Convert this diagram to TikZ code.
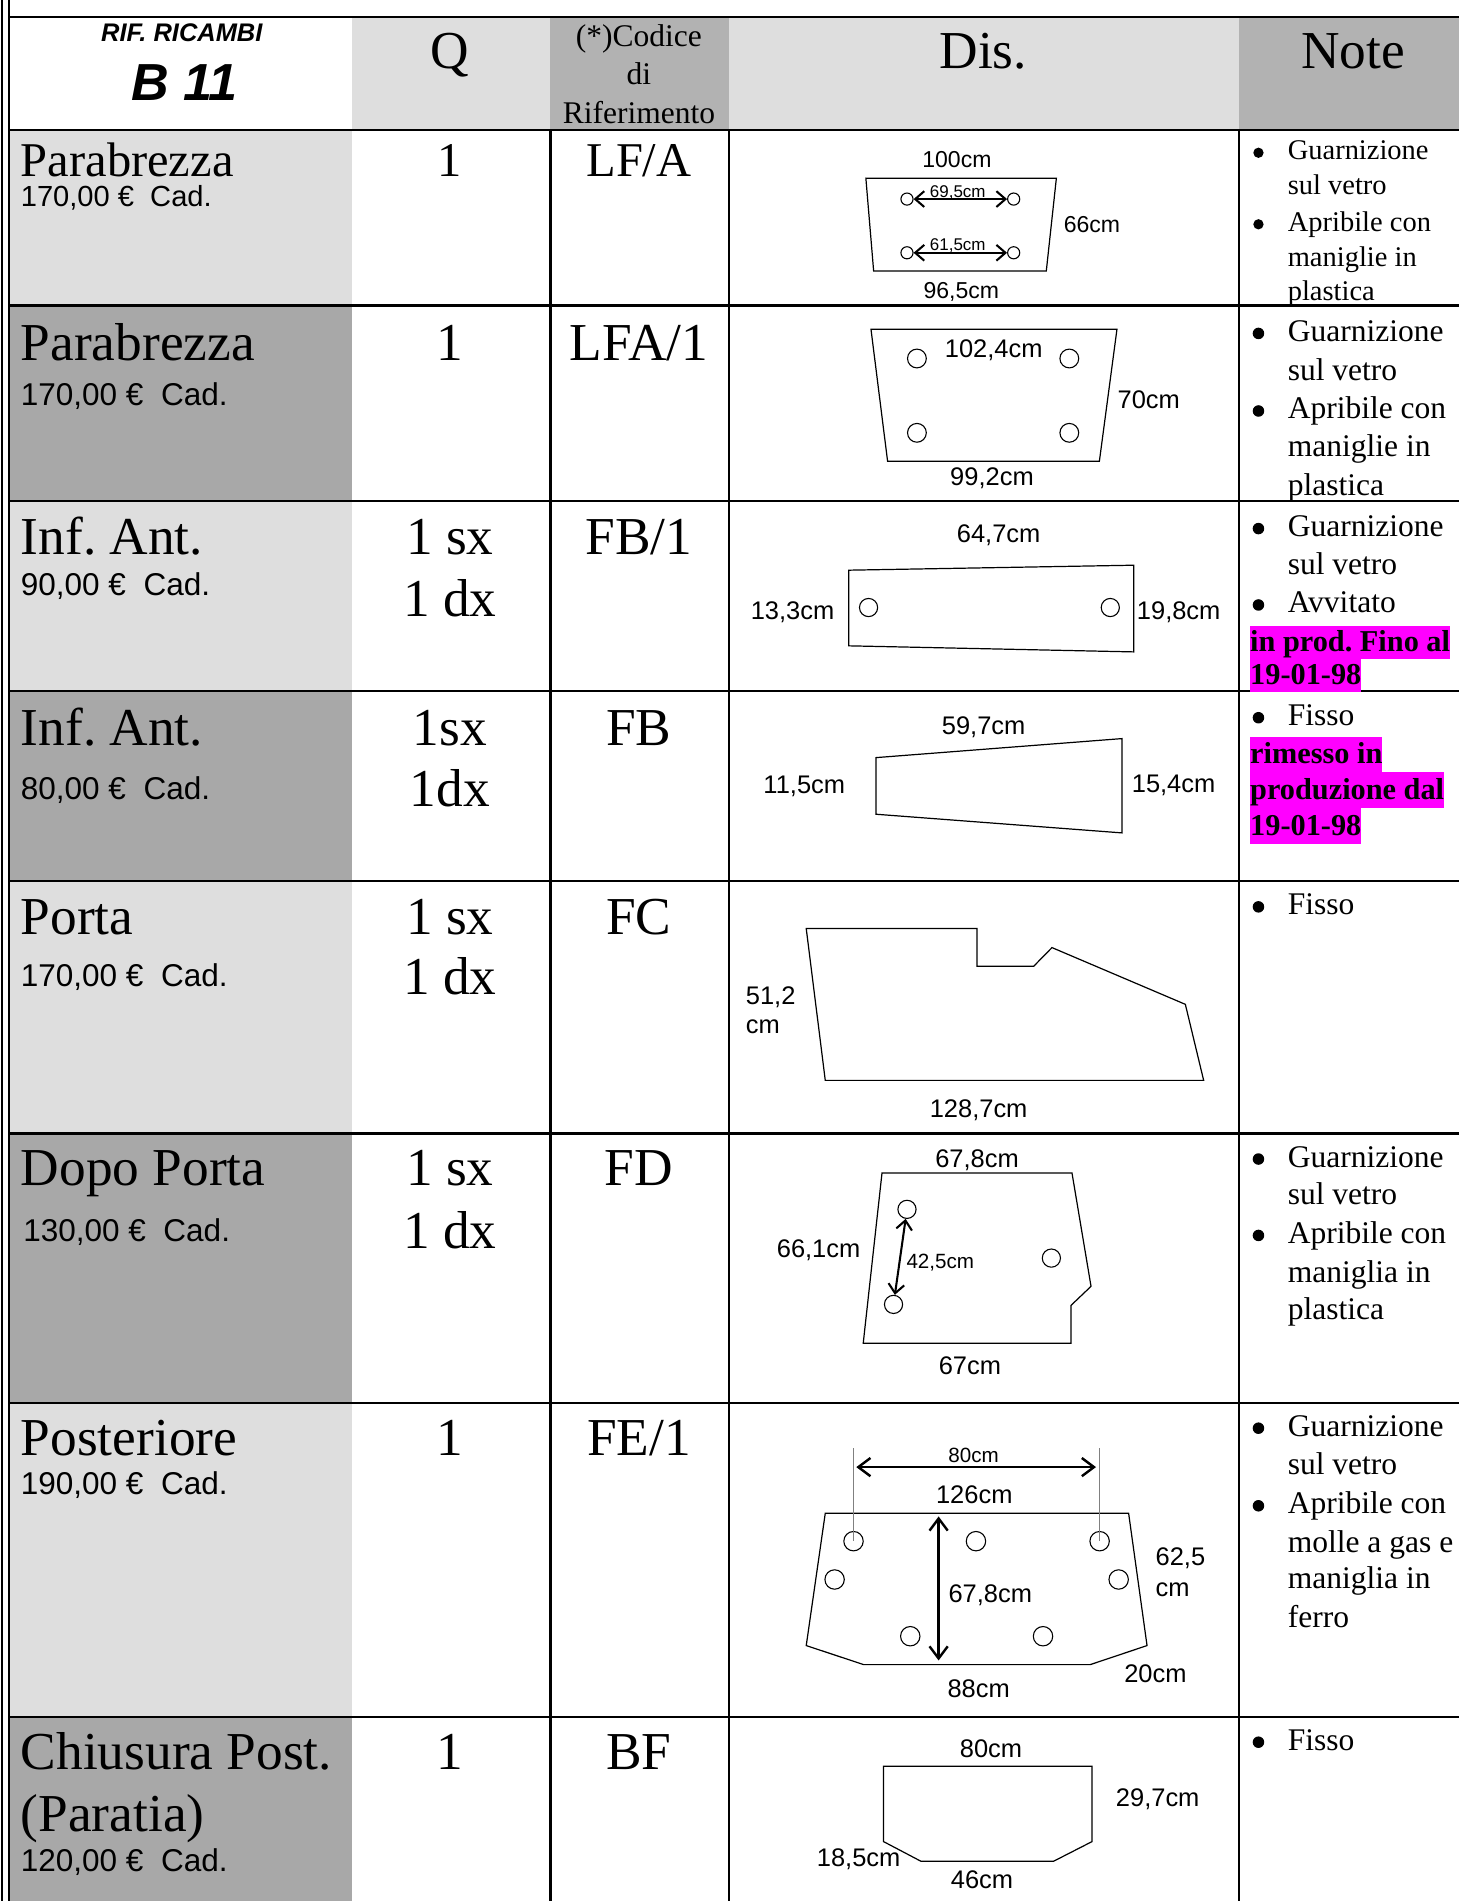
\documentclass[tikz,border=0pt]{standalone}
\usepackage{fontspec}
\setmainfont{Liberation Serif}
\setsansfont{Liberation Sans}
\usetikzlibrary{arrows.meta}
\definecolor{lgray}{HTML}{DEDEDE}
\definecolor{dgray}{HTML}{A8A8A8}
\definecolor{hgray}{HTML}{B2B2B2}
\definecolor{mag}{HTML}{FF00FF}
\frenchspacing
\begin{document}
\begin{tikzpicture}[x=1pt,y=-1pt,
 every node/.style={inner sep=0pt,text depth=0pt},
 big/.style={font=\fontsize{44}{50}\selectfont,text height=29pt},
 bigs/.style={font=\fontsize{40}{46}\selectfont,text height=26.5pt},
 price/.style={font=\sffamily\fontsize{26}{30}\selectfont,text height=18.6pt,anchor=west},
 prices/.style={font=\sffamily\fontsize{24}{28}\selectfont,text height=17.2pt,anchor=west},
 note/.style={font=\fontsize{26}{30}\selectfont,text height=17.2pt,anchor=west},
 notes/.style={font=\fontsize{23.5}{28}\selectfont,text height=15.6pt,anchor=west},
 bul/.style={circle,fill=black,inner sep=0pt,minimum size=#1},
 bul/.default=9.5pt,
 hl/.style={font=\bfseries\fontsize{25}{30}\selectfont,fill=mag,anchor=base west},
 dim/.style={font=\sffamily\fontsize{21}{25}\selectfont,text height=15pt},
 dimo/.style={font=\sffamily\fontsize{19}{23}\selectfont,text height=13.6pt},
 dimm/.style={font=\sffamily\fontsize{17}{20}\selectfont,text height=12.2pt},
 dims/.style={font=\sffamily\fontsize{14}{17}\selectfont,text height=10pt},
 hole/.style={circle,draw,line width=0.9pt,minimum size=#1},
 hole/.default=11pt,
 part/.style={line width=1pt,line join=miter},
 dimarrow/.style={line width=2pt,{Straight Barb[length=10pt,width=15pt]}-{Straight Barb[length=10pt,width=15pt]}},
 dimarrows/.style={line width=1.7pt,{Straight Barb[length=7.5pt,width=13pt]}-{Straight Barb[length=7.5pt,width=13pt]}},
 grid/.style={line width=1.8pt},
 extline/.style={gray,line width=0.8pt},
]
\useasboundingbox (0,0) rectangle (1203,1568);
\fill[white] (0,0) rectangle (1203,1568);
% header fills
\fill[lgray] (290,14) rectangle (454,107);
\fill[hgray] (454,14) rectangle (601,107);
\fill[lgray] (601,14) rectangle (1022,107);
\fill[hgray] (1022,14) rectangle (1203,107);
% first column fills
\fill[lgray] (8,107) rectangle (290,252);
\fill[dgray] (8,252) rectangle (290,413);
\fill[lgray] (8,413) rectangle (290,570);
\fill[dgray] (8,570) rectangle (290,727);
\fill[lgray] (8,727) rectangle (290,935);
\fill[dgray] (8,935) rectangle (290,1157);
\fill[lgray] (8,1157) rectangle (290,1416);
\fill[dgray] (8,1416) rectangle (290,1568);
% grid
\draw[grid] (8,14) -- (1203,14);
\foreach \yy in {107,252,413,570,727,935,1157,1416} \draw[grid] (8,\yy) -- (1203,\yy);
\foreach \xx in {454,601,1022} \draw[grid] (\xx,107) -- (\xx,1568);
\draw[line width=1.5pt] (1.5,0) -- (1.5,1568);
\draw[line width=1.5pt] (7.5,0) -- (7.5,1568);
% header
\node[font=\sffamily\bfseries\itshape\fontsize{21}{24}\selectfont,text height=15pt] (hrif) at (150,27) {RIF. RICAMBI};
\node[font=\sffamily\bfseries\itshape\fontsize{43}{48}\selectfont,text height=31pt] (hb) at (152,67) {B 11};
\node[big] (hq) at (371,42) {Q};
\node[font=\fontsize{26}{30}\selectfont,text height=17.2pt] (hc1) at (527,30) {(*)Codice};
\node[font=\fontsize{26}{30}\selectfont,text height=17.2pt] (hc2) at (527,61) {di};
\node[font=\fontsize{26}{30}\selectfont,text height=17.2pt] (hc3) at (527,93) {Riferimento};
\node[big] (hd) at (811,42) {Dis.};
\node[big] (hn) at (1116,42) {Note};
% first column
\node[bigs,anchor=west] (l1) at (17,132) {Parabrezza};
\node[prices] (p1) at (17,162) {170,00 €\ \ Cad.};
\node[big,anchor=west] (l2) at (17,283) {Parabrezza};
\node[price] (p2) at (17,325) {170,00 €\ \ Cad.};
\node[big,anchor=west] (l3) at (17,443) {Inf. Ant.};
\node[price] (p3) at (17,482) {90,00 €\ \ Cad.};
\node[big,anchor=west] (l4) at (17,600) {Inf. Ant.};
\node[price] (p4) at (17,650) {80,00 €\ \ Cad.};
\node[big,anchor=west] (l5) at (17,756) {Porta};
\node[price] (p5) at (17,804) {170,00 €\ \ Cad.};
\node[big,anchor=west] (l6) at (17,963) {Dopo Porta};
\node[price] (p6) at (19,1015) {130,00 €\ \ Cad.};
\node[big,anchor=west] (l7) at (17,1186) {Posteriore};
\node[price] (p7) at (17,1223) {190,00 €\ \ Cad.};
\node[big,anchor=west] (l8a) at (17,1445) {Chiusura Post.};
\node[big,anchor=west] (l8b) at (17,1496) {(Paratia)};
\node[price] (p8) at (17,1534) {120,00 €\ \ Cad.};
% Q column
\node[bigs] (q1) at (371,132) {1};
\node[big] (q2) at (371,283) {1};
\node[big] (q3a) at (371,443) {1 sx};
\node[big] (q3b) at (371,494) {1 dx};
\node[big] (q4a) at (371,600) {1sx};
\node[big] (q4b) at (371,651) {1dx};
\node[big] (q5a) at (371,756) {1 sx};
\node[big] (q5b) at (371,806) {1 dx};
\node[big] (q6a) at (371,963) {1 sx};
\node[big] (q6b) at (371,1015) {1 dx};
\node[big] (q7) at (371,1186) {1};
\node[big] (q8) at (371,1445) {1};
% code column
\node[bigs] (c1) at (527,132) {LF/A};
\node[big] (c2) at (527,283) {LFA/1};
\node[big] (c3) at (527,443) {FB/1};
\node[big] (c4) at (527,600) {FB};
\node[big] (c5) at (527,756) {FC};
\node[big] (c6) at (527,963) {FD};
\node[big] (c7) at (527,1186) {FE/1};
\node[big] (c8) at (527,1445) {BF};
% notes row 1
\node[bul=8.5pt] (b1a) at (1038,126) {};
\node[notes] (n1a) at (1062,124) {Guarnizione};
\node[notes] (n1b) at (1062,153) {sul vetro};
\node[bul=8.5pt] (b1b) at (1038,185) {};
\node[notes] (n1c) at (1062,183) {Apribile con};
\node[notes] (n1d) at (1062,212) {maniglie in};
\node[notes] (n1e) at (1062,240) {plastica};
% notes row 2
\node[bul] (b2a) at (1038,275) {};
\node[note] (n2a) at (1062,273) {Guarnizione};
\node[note] (n2b) at (1062,305) {sul vetro};
\node[bul] (b2b) at (1038,339) {};
\node[note] (n2c) at (1062,337) {Apribile con};
\node[note] (n2d) at (1062,368) {maniglie in};
\node[note] (n2e) at (1062,400) {plastica};
% notes row 3
\node[bul] (b3a) at (1038,436) {};
\node[note] (n3a) at (1062,434) {Guarnizione};
\node[note] (n3b) at (1062,465) {sul vetro};
\node[bul] (b3b) at (1038,499) {};
\node[note] (n3c) at (1062,497) {Avvitato};
\node[hl,text height=21pt,text depth=6.5pt] (n3d) at (1031,537) {in prod. Fino al};
\node[hl,text height=21pt,text depth=6.5pt] (n3e) at (1031,564.5) {19-01-98};
% notes row 4
\node[bul] (b4a) at (1038,592) {};
\node[note] (n4a) at (1062,590) {Fisso};
\node[hl,text height=22.5pt,text depth=7pt] (n4b) at (1031,630) {rimesso in};
\node[hl,text height=22.5pt,text depth=7pt] (n4c) at (1031,659.5) {produzione dal};
\node[hl,text height=22.5pt,text depth=7pt] (n4d) at (1031,689) {19-01-98};
% notes row 5
\node[bul] (b5a) at (1038,748) {};
\node[note] (n5a) at (1062,746) {Fisso};
% notes row 6
\node[bul] (b6a) at (1038,956) {};
\node[note] (n6a) at (1062,954) {Guarnizione};
\node[note] (n6b) at (1062,985) {sul vetro};
\node[bul] (b6b) at (1038,1019) {};
\node[note] (n6c) at (1062,1017) {Apribile con};
\node[note] (n6d) at (1062,1049) {maniglia in};
\node[note] (n6e) at (1062,1080) {plastica};
% notes row 7
\node[bul] (b7a) at (1038,1178) {};
\node[note] (n7a) at (1062,1176) {Guarnizione};
\node[note] (n7b) at (1062,1208) {sul vetro};
\node[bul] (b7b) at (1038,1242) {};
\node[note] (n7c) at (1062,1240) {Apribile con};
\node[note] (n7d) at (1062,1272) {molle a gas e};
\node[note] (n7e) at (1062,1302) {maniglia in};
\node[note] (n7f) at (1062,1334) {ferro};
% notes row 8
\node[bul] (b8a) at (1038,1437) {};
\node[note] (n8a) at (1062,1435) {Fisso};

% ===== drawings =====
% row 1 LF/A
\draw[part] (714.2,147.1) -- (871.3,147.1) -- (863,223.6) -- (720.6,223.6) -- cycle;
\node[hole=10pt] (h1a) at (748.1,164.2) {};
\node[hole=10pt] (h1b) at (836.1,164.2) {};
\node[hole=10pt] (h1c) at (748.1,208.5) {};
\node[hole=10pt] (h1d) at (836.1,208.5) {};
\draw[dimarrows] (h1a) -- (h1b);
\draw[dimarrows] (h1c) -- (h1d);
\node[dimo] (d1a) at (789.3,131.4) {100cm};
\node[dims] (d1b) at (790,158.2) {69,5cm};
\node[dims] (d1c) at (790,202) {61,5cm};
\node[dimo] (d1d) at (900.7,184.8) {66cm};
\node[dimo] (d1e) at (792.9,239.3) {96,5cm};
% row 2 LFA/1
\draw[part] (718.4,271.5) -- (921.3,271.5) -- (906.8,380.4) -- (732.1,380.4) -- cycle;
\node[hole=15.5pt] (h2a) at (756.3,295.7) {};
\node[hole=15.5pt] (h2b) at (882,295.7) {};
\node[hole=15.5pt] (h2c) at (756.3,357) {};
\node[hole=15.5pt] (h2d) at (882,357) {};
\node[dim] (d2a) at (819.6,287.4) {102,4cm};
\node[dim] (d2b) at (947.5,329.5) {70cm};
\node[dim] (d2c) at (818.2,393.3) {99,2cm};
% row 3 FB/1
\draw[part] (700,470.3) -- (935.1,466.2) -- (935.1,537.7) -- (700,532.7) -- cycle;
\node[hole=15pt] (h3a) at (716.4,501.1) {};
\node[hole=15pt] (h3b) at (915.8,501.1) {};
\node[dim] (d3a) at (823.7,440) {64,7cm};
\node[dim] (d3b) at (653.7,503.3) {13,3cm};
\node[dim] (d3c) at (972.2,503.3) {19,8cm};
% row 4 FB
\draw[part] (722.5,624.9) -- (925.5,609.2) -- (925.5,687) -- (722.5,671.6) -- cycle;
\node[dim] (d4a) at (811.3,598.2) {59,7cm};
\node[dim] (d4b) at (663.4,646.9) {11,5cm};
\node[dim] (d4c) at (968,645.8) {15,4cm};
% row 5 FC
\draw[part] (665,765.9) -- (805.9,765.9) -- (805.9,797) -- (852.6,797) -- (867.7,781.6) -- (977.7,828.4) -- (992.8,891.1) -- (680.7,891.1) -- cycle;
\node[dim,anchor=west] (d5a) at (615,821) {51,2};
\node[dim,anchor=west] (d5b) at (615,845) {cm};
\node[dim] (d5c) at (807.2,914.5) {128,7cm};
% row 6 FD
\draw[part] (727.5,967.5) -- (884.2,967.5) -- (899.9,1061) -- (883.4,1076.7) -- (883.4,1108) -- (712,1108) -- cycle;
\node[hole=15pt] (h6a) at (748.1,997.5) {};
\node[hole=15pt] (h6b) at (737,1075.9) {};
\node[hole=15pt] (h6c) at (867.2,1037.7) {};
\draw[dimarrows] (h6a) -- (h6b);
\node[dim] (d6a) at (805.9,955.7) {67,8cm};
\node[dim] (d6b) at (675.2,1030) {66,1cm};
\node[dimm] (d6c) at (775.6,1040.4) {42,5cm};
\node[dim] (d6d) at (800,1126) {67cm};
% row 7 FE/1
\draw[part] (680.7,1248.1) -- (930.9,1248.1) -- (946.1,1357.3) -- (899.3,1373) -- (712.3,1373) -- (665,1357.3) -- cycle;
\node[hole=16pt] (h7a) at (704,1271.2) {};
\node[hole=16pt] (h7b) at (805,1271.2) {};
\node[hole=16pt] (h7c) at (907,1271.2) {};
\node[hole=16pt] (h7d) at (688.4,1302.8) {};
\node[hole=16pt] (h7e) at (922.7,1302.8) {};
\node[hole=16pt] (h7f) at (750.8,1349.6) {};
\node[hole=16pt] (h7g) at (860.3,1349.6) {};
\coordinate (x7a) at (704,1194.5);
\coordinate (x7b) at (907,1194.5);
\draw[extline] (x7a) -- (h7a.center);
\draw[extline] (x7b) -- (h7c.center);
\coordinate (e7a) at (706.3,1210.1);
\coordinate (e7b) at (904,1210.1);
\draw[dimarrow] (e7a) -- (e7b);
\coordinate (v7a) at (774.2,1250.8);
\coordinate (v7b) at (774.2,1369.6);
\draw[dimarrow] (v7a) -- (v7b);
\node[dimm] (d7a) at (803,1200) {80cm};
\node[dim] (d7b) at (803.6,1232.7) {126cm};
\node[dim] (d7c) at (816.8,1314.6) {67,8cm};
\node[dim,anchor=west] (d7d) at (953,1283.6) {62,5};
\node[dim,anchor=west] (d7e) at (953,1309.1) {cm};
\node[dim] (d7f) at (953,1380) {20cm};
\node[dim] (d7g) at (807.2,1393) {88cm};
% row 8 BF
\draw[part] (728.8,1456.8) -- (900.7,1456.8) -- (900.7,1519) -- (869,1535.2) -- (759.6,1535.2) -- (728.8,1519) -- cycle;
\node[dim] (d8a) at (817.4,1442.5) {80cm};
\node[dim] (d8b) at (954.9,1482.4) {29,7cm};
\node[dim] (d8c) at (708.2,1531.9) {18,5cm};
\node[dim] (d8d) at (810,1549.8) {46cm};
\end{tikzpicture}
\end{document}
